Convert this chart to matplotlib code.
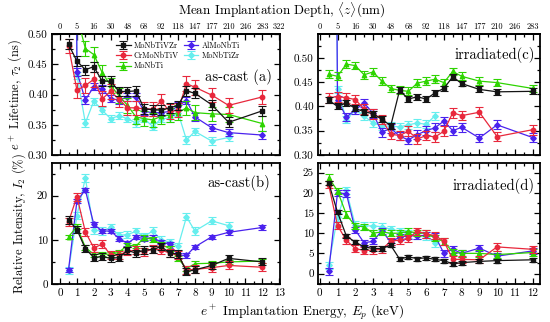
import matplotlib
matplotlib.use('Agg')
import matplotlib.pyplot as plt
from matplotlib.ticker import MultipleLocator, FixedLocator, FormatStrFormatter

plt.rcParams['font.family'] = ['cmr10', 'DejaVu Serif']
plt.rcParams['mathtext.fontset'] = 'cm'
plt.rcParams['axes.unicode_minus'] = False
plt.rcParams['axes.formatter.use_mathtext'] = True

# ---------------- data ----------------
alloys = ['MoNbTiVZr', 'CrMoNbTiV', 'MoNbTi', 'AlMoNbTi', 'MoNbTiZr']
colors = ['#141414', '#e8283c', '#2ed400', '#4a22ee', '#66eeee']
markers = ['s', 'o', '^', 'D', 'D']

energy = [0.5, 1, 1.5, 2, 2.5, 3, 3.5, 4, 4.5, 5, 5.5, 6, 6.5, 7, 7.5, 8, 9, 10, 12]
energy_zr_cast = energy[:18]
energy_zr_irr = energy[:13]

depth_pos = [0, 1, 2, 3, 4, 5, 6, 7, 8, 9, 10, 11, 12, 13]
depth_labels = ['0', '5', '16', '30', '48', '68', '92', '118', '147', '177', '210', '246', '283', '322']

# (a) as-cast lifetime tau2 (ns)
tau_cast_MoNbTiVZr = [0.483, 0.455, 0.441, 0.446, 0.422, 0.422, 0.405, 0.405, 0.406, 0.376, 0.375, 0.374, 0.378, 0.382, 0.406, 0.402, 0.383, 0.354, 0.373]
tau_cast_CrMoNbTiV = [0.480, 0.407, 0.415, 0.425, 0.393, 0.405, 0.392, 0.378, 0.378, 0.376, 0.376, 0.389, 0.372, 0.374, 0.418, 0.412, 0.399, 0.382, 0.396]
tau_cast_MoNbTi = [0.600, 0.530, 0.476, 0.466, 0.436, 0.415, 0.398, 0.382, 0.363, 0.360, 0.358, 0.364, 0.366, 0.370, 0.378, 0.370, 0.368, 0.367, 0.352]
tau_cast_AlMoNbTi = [3.000, 0.437, 0.391, 0.413, 0.409, 0.393, 0.391, 0.396, 0.396, 0.372, 0.370, 0.370, 0.372, 0.381, 0.390, 0.363, 0.345, 0.337, 0.333]
tau_cast_MoNbTiZr = [3.000, 0.432, 0.353, 0.389, 0.374, 0.360, 0.365, 0.360, 0.353, 0.360, 0.347, 0.360, 0.361, 0.370, 0.325, 0.339, 0.323, 0.329]
tau_cast_err = [0.008, 0.012, 0.012, 0.006, 0.006]

# (b) as-cast intensity I2 (%)
int_cast_MoNbTiVZr = [14.5, 12.3, 8.0, 6.0, 6.2, 5.8, 6.0, 7.6, 7.0, 7.7, 7.8, 8.5, 7.0, 6.8, 2.8, 3.2, 4.2, 5.8, 5.0]
int_cast_CrMoNbTiV = [14.1, 19.8, 11.8, 8.2, 9.0, 6.6, 6.5, 7.5, 7.6, 7.2, 8.0, 7.7, 7.0, 6.5, 3.2, 3.3, 3.7, 4.2, 3.8]
int_cast_MoNbTi = [10.7, 13.0, 8.3, 6.7, 6.8, 6.7, 7.2, 8.8, 8.6, 10.5, 10.1, 9.0, 8.0, 5.8, 3.5, 4.6, 4.7, 5.0, 5.2]
int_cast_AlMoNbTi = [3.2, 18.8, 21.3, 13.5, 12.0, 12.0, 10.3, 9.2, 10.6, 10.3, 10.5, 9.5, 9.0, 6.5, 6.5, 8.4, 10.7, 11.7, 12.8]
int_cast_MoNbTiZr = [3.0, 15.5, 24.0, 12.2, 12.0, 12.8, 11.0, 11.2, 11.9, 10.8, 12.0, 10.0, 9.5, 8.5, 15.2, 12.0, 14.3, 13.2]
int_cast_err = [0.8, 0.9, 0.5, 0.5, 0.8]

# (c) irradiated lifetime tau2 (ns)
tau_irr_MoNbTiVZr = [0.413, 0.400, 0.407, 0.396, 0.389, 0.385, 0.374, 0.360, 0.433, 0.415, 0.420, 0.415, 0.428, 0.437, 0.461, 0.447, 0.435, 0.430, 0.431]
tau_irr_CrMoNbTiV = [0.418, 0.420, 0.418, 0.414, 0.395, 0.385, 0.373, 0.343, 0.340, 0.349, 0.333, 0.340, 0.337, 0.349, 0.387, 0.381, 0.388, 0.338, 0.352]
tau_irr_MoNbTi = [0.466, 0.462, 0.487, 0.484, 0.465, 0.471, 0.452, 0.437, 0.433, 0.431, 0.448, 0.452, 0.456, 0.449, 0.472, 0.462, 0.452, 0.449, 0.437]
tau_irr_AlMoNbTi = [3.000, 0.413, 0.378, 0.393, 0.407, 0.386, 0.347, 0.355, 0.339, 0.331, 0.342, 0.350, 0.356, 0.370, 0.350, 0.357, 0.335, 0.362, 0.336]
tau_irr_MoNbTiZr = [3.000, 0.435, 0.373, 0.393, 0.380, 0.366, 0.360, 0.359, 0.358, 0.362, 0.366, 0.363, 0.381]
tau_irr_err = [0.006, 0.010, 0.008, 0.009, 0.008]

# (d) irradiated intensity I2 (%)
int_irr_MoNbTiVZr = [22.5, 15.2, 9.3, 7.8, 6.6, 6.2, 6.2, 7.0, 3.6, 4.1, 3.7, 3.9, 3.5, 3.2, 2.4, 2.7, 3.0, 3.2, 3.4]
int_irr_CrMoNbTiV = [22.0, 11.9, 8.2, 6.2, 5.7, 5.8, 6.0, 8.0, 8.3, 8.7, 10.5, 9.8, 9.4, 8.0, 3.5, 3.5, 3.4, 6.6, 6.0]
int_irr_MoNbTi = [23.8, 20.5, 14.6, 11.8, 11.6, 10.0, 10.3, 10.0, 10.0, 10.5, 10.0, 10.0, 8.8, 7.9, 5.3, 5.0, 5.0, 4.7, 5.2]
int_irr_AlMoNbTi = [0.5, 20.0, 19.8, 10.8, 7.6, 8.0, 10.6, 7.8, 9.0, 9.4, 9.3, 9.5, 9.3, 5.0, 6.0, 5.0, 6.3, 4.3, 5.6]
int_irr_MoNbTiZr = [2.0, 14.0, 20.6, 12.0, 11.8, 11.8, 11.6, 11.0, 10.5, 9.8, 9.5, 9.3, 7.5]
int_irr_err = [0.5, 0.9, 0.8, 0.8, 0.9]

# ---------------- figure ----------------
W, H = 550, 322
fig = plt.figure(figsize=(W / 100, H / 100), dpi=100)

def px_axes(l, t, r, b):
    return fig.add_axes([l / W, 1 - b / H, (r - l) / W, (b - t) / H])

ax_a = px_axes(52, 34, 280, 155)
ax_c = px_axes(318, 34, 540, 155)
ax_b = px_axes(52, 163, 280, 284)
ax_d = px_axes(318, 163, 540, 284)

def draw(ax, xs_list, ys_list, errs, zorders=(5, 4, 3, 2, 1)):
    for i, (xs, ys) in enumerate(zip(xs_list, ys_list)):
        ax.errorbar(xs, ys, yerr=errs[i], color=colors[i], marker=markers[i],
                    ms=3.2 if markers[i] != 'D' else 2.8, lw=0.9, elinewidth=0.8,
                    capsize=2.8, capthick=0.8, label=alloys[i], zorder=zorders[i],
                    clip_on=True)

draw(ax_a, [energy, energy, energy, energy, energy_zr_cast],
     [tau_cast_MoNbTiVZr, tau_cast_CrMoNbTiV, tau_cast_MoNbTi, tau_cast_AlMoNbTi, tau_cast_MoNbTiZr],
     tau_cast_err)
draw(ax_b, [energy, energy, energy, energy, energy_zr_cast],
     [int_cast_MoNbTiVZr, int_cast_CrMoNbTiV, int_cast_MoNbTi, int_cast_AlMoNbTi, int_cast_MoNbTiZr],
     int_cast_err)
draw(ax_c, [energy, energy, energy, energy, energy_zr_irr],
     [tau_irr_MoNbTiVZr, tau_irr_CrMoNbTiV, tau_irr_MoNbTi, tau_irr_AlMoNbTi, tau_irr_MoNbTiZr],
     tau_irr_err)
draw(ax_d, [energy, energy, energy, energy, energy_zr_irr],
     [int_irr_MoNbTiVZr, int_irr_CrMoNbTiV, int_irr_MoNbTi, int_irr_AlMoNbTi, int_irr_MoNbTiZr],
     int_irr_err)

left_xlim = (-0.48, 13.05)
right_xlim = (-0.1, 12.42)

for ax, xl in [(ax_a, left_xlim), (ax_b, left_xlim), (ax_c, right_xlim), (ax_d, right_xlim)]:
    ax.set_xlim(*xl)
    ax.xaxis.set_major_locator(MultipleLocator(1))
    ax.xaxis.set_minor_locator(MultipleLocator(0.5))
    ax.tick_params(which='both', direction='in', top=True, right=True, width=0.9, labelsize=8, pad=3)
    ax.tick_params(which='major', length=4.5)
    ax.tick_params(which='minor', length=2.5)
    for s in ax.spines.values():
        s.set_linewidth(1.3)

ax_a.set_ylim(0.30, 0.50)
ax_c.set_ylim(0.30, 0.549)
for ax, n in ((ax_a, 14), (ax_c, 13)):
    ax.yaxis.set_major_locator(MultipleLocator(0.05))
    ax.yaxis.set_minor_locator(MultipleLocator(0.025))
    ax.yaxis.set_major_formatter(FormatStrFormatter('%.2f'))
    ax.tick_params(axis='x', which='both', labelbottom=False, top=False)
    sec = ax.secondary_xaxis('top')
    sec.xaxis.set_major_locator(FixedLocator(depth_pos[:n]))
    sec.xaxis.set_minor_locator(MultipleLocator(0.5))
    sec.set_xticklabels(depth_labels[:n])
    sec.tick_params(which='both', direction='in', width=0.9, labelsize=6, pad=2)
    sec.tick_params(which='major', length=4.5)
    sec.tick_params(which='minor', length=2.5)
    sec.spines['top'].set_linewidth(1.3)

ax_b.set_ylim(0, 27.4)
ax_b.yaxis.set_major_locator(MultipleLocator(10))
ax_b.yaxis.set_minor_locator(MultipleLocator(5))
ax_d.set_ylim(-2.6, 27.4)
ax_d.yaxis.set_major_locator(MultipleLocator(5))
ax_d.yaxis.set_minor_locator(MultipleLocator(2.5))
for ax in (ax_b, ax_d):
    ax.xaxis.set_major_formatter(FormatStrFormatter('%d'))
    ax.yaxis.set_major_formatter(FormatStrFormatter('%d'))

ax_a.set_ylabel(r'$e^+$ Lifetime, $\tau_2$ (ns)', fontsize=9, labelpad=3)
ax_b.set_ylabel(r'Relative Intensity, $I_2$ (%)', fontsize=9, labelpad=6)

ax_a.text(0.965, 0.645, 'as-cast (a)', transform=ax_a.transAxes, ha='right', va='center', fontsize=10.5)
ax_b.text(0.956, 0.835, 'as-cast(b)', transform=ax_b.transAxes, ha='right', va='center', fontsize=10.5)
ax_c.text(0.977, 0.83, 'irradiated(c)', transform=ax_c.transAxes, ha='right', va='center', fontsize=10.5)
ax_d.text(0.977, 0.81, 'irradiated(d)', transform=ax_d.transAxes, ha='right', va='center', fontsize=10.5)

fig.text(282 / W, 1 - 10 / H, r'Mean Implantation Depth, $\langle z\rangle$(nm)', ha='center', va='center', fontsize=9.5)
fig.text(302 / W, 1 - 312 / H, r'$e^+$ Implantation Energy, $E_p$ (keV)', ha='center', va='center', fontsize=9.5)

handles, labels = ax_a.get_legend_handles_labels()
ax_a.legend(handles, labels, ncol=2, loc='upper left', bbox_to_anchor=(0.26, 0.98),
            frameon=False, fontsize=5.8, handlelength=1.8, handletextpad=0.4,
            columnspacing=0.6, labelspacing=0.25, borderaxespad=0.2)

fig.savefig('out.png', dpi=100)
